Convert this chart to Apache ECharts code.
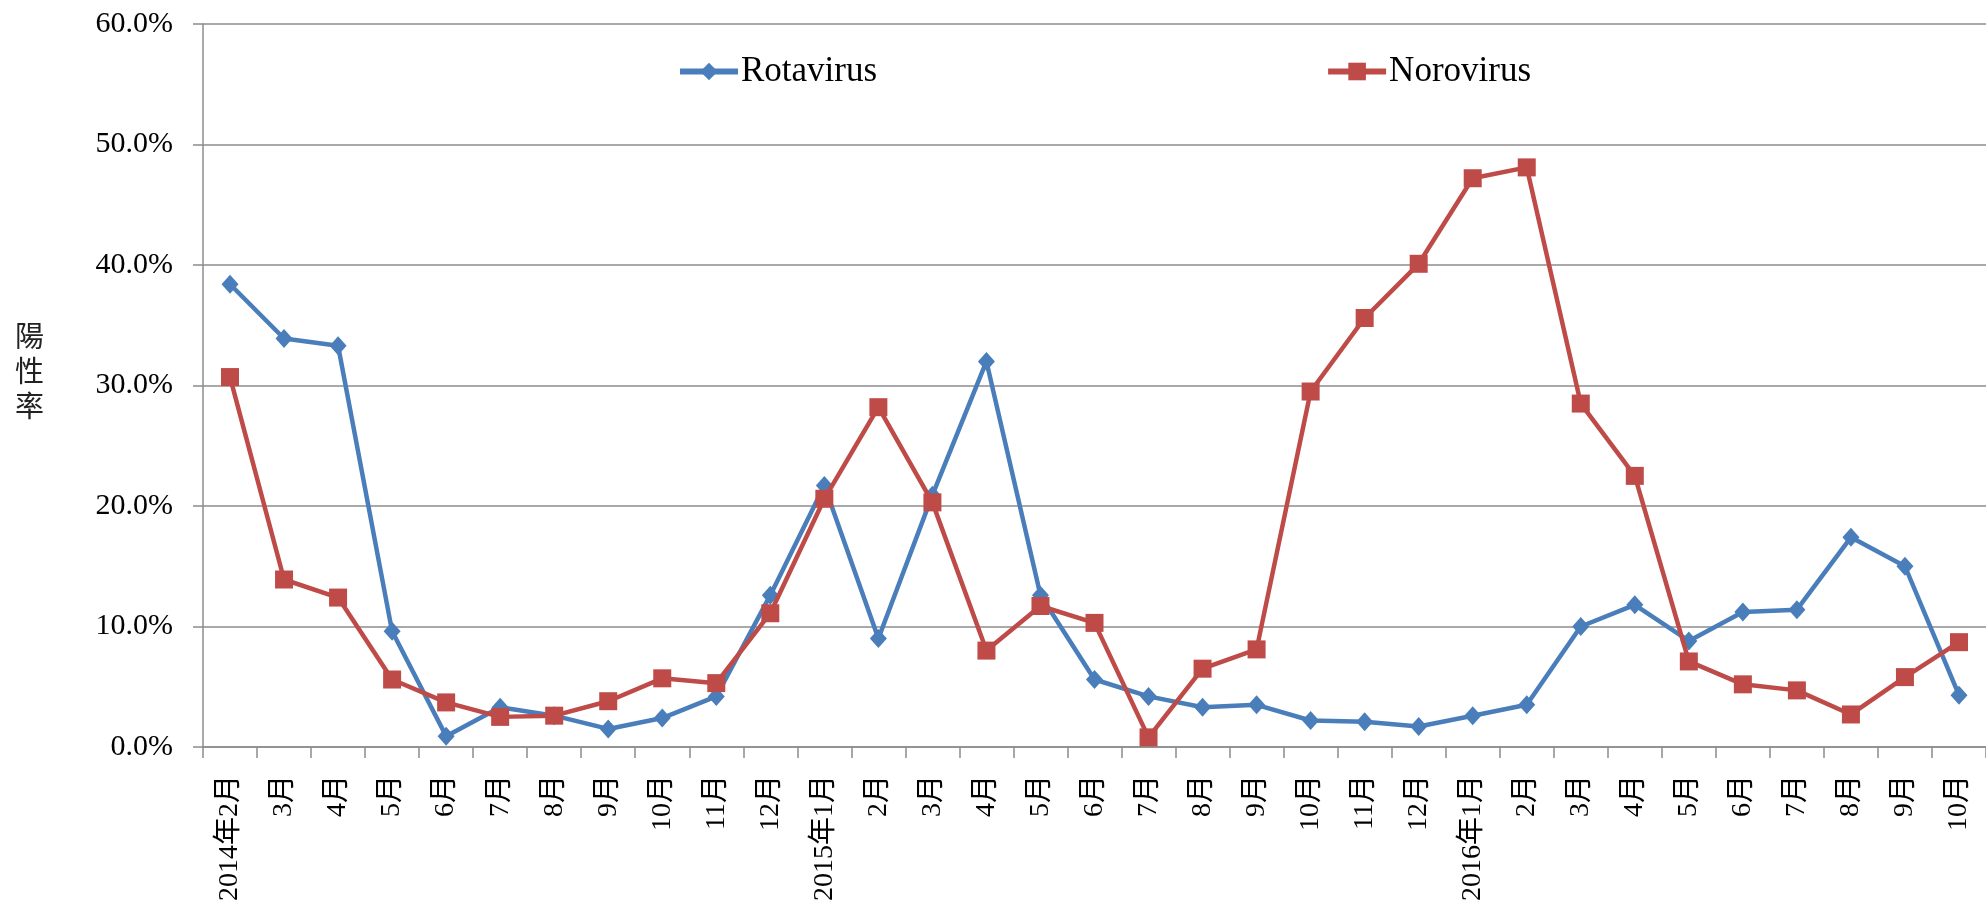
<!DOCTYPE html>
<html>
<head>
<meta charset="utf-8">
<script src="https://cdn.jsdelivr.net/npm/echarts@6/dist/echarts.min.js"></script>
<style>
  html, body { margin: 0; padding: 0; background: #ffffff; }
  #chart { width: 1986px; height: 911px; }
</style>
</head>
<body>
<div id="chart"></div>
<script>
// Monthly positivity rate (%), Feb 2014 – Oct 2016
const months = [
  '2014年2月', '3月', '4月', '5月', '6月', '7月', '8月', '9月', '10月', '11月', '12月',
  '2015年1月', '2月', '3月', '4月', '5月', '6月', '7月', '8月', '9月', '10月', '11月', '12月',
  '2016年1月', '2月', '3月', '4月', '5月', '6月', '7月', '8月', '9月', '10月'
];
const rotavirus = [
  38.4, 33.9, 33.3, 9.6, 0.9, 3.3, 2.6, 1.5, 2.4, 4.2, 12.6,
  21.7, 9.0, 20.9, 32.0, 12.6, 5.6, 4.2, 3.3, 3.5, 2.2, 2.1, 1.7,
  2.6, 3.5, 10.0, 11.8, 8.8, 11.2, 11.4, 17.4, 15.0, 4.3
];
const norovirus = [
  30.7, 13.9, 12.4, 5.6, 3.7, 2.5, 2.6, 3.8, 5.7, 5.3, 11.1,
  20.6, 28.2, 20.3, 8.0, 11.7, 10.3, 0.8, 6.5, 8.1, 29.5, 35.6, 40.1,
  47.2, 48.1, 28.5, 22.5, 7.1, 5.2, 4.7, 2.7, 5.8, 8.7
];
const yAxisTitle = '陽\n性\n率';
const seriesNames = ['Rotavirus', 'Norovirus'];

const FONT = "'Liberation Serif', 'Noto Sans CJK TC', serif";
const AXIS_GRAY = '#8c8c8c';
const BLUE = '#4a7ebb';
const RED = '#be4b48';

const chart = echarts.init(document.getElementById('chart'), null, { renderer: 'canvas' });

chart.setOption({
  backgroundColor: '#ffffff',
  animation: false,
  grid: { left: 203, right: 0, top: 24, bottom: 164, containLabel: false },
  legend: {
    data: seriesNames,
    left: 672,
    top: 49,
    itemWidth: 58,
    itemHeight: 22,
    itemGap: 448,
    lineStyle: { width: 6 },
    textStyle: { fontFamily: FONT, fontSize: 35, color: '#000', padding: [0, 0, 0, -2] }
  },
  graphic: [{
    type: 'text',
    left: 15,
    top: 318,
    style: {
      text: yAxisTitle,
      font: "29px 'Noto Sans CJK TC'",
      fill: '#222',
      lineHeight: 35
    }
  }],
  xAxis: {
    type: 'category',
    data: months,
    boundaryGap: true,
    axisLine: { lineStyle: { color: AXIS_GRAY, width: 1.5 } },
    axisTick: { show: true, alignWithLabel: false, length: 11, lineStyle: { color: AXIS_GRAY, width: 1.5 } },
    axisLabel: {
      interval: 0,
      rotate: 90,
      margin: 28,
      fontFamily: FONT,
      fontSize: 28,
      color: '#000'
    },
    splitLine: { show: false }
  },
  yAxis: {
    type: 'value',
    min: 0,
    max: 60,
    interval: 10,
    axisLine: { show: true, lineStyle: { color: AXIS_GRAY, width: 1.5 } },
    axisTick: { show: true, length: 10, lineStyle: { color: AXIS_GRAY, width: 1.5 } },
    axisLabel: {
      margin: 30,
      fontFamily: FONT,
      fontSize: 30,
      color: '#000',
      formatter: v => v.toFixed(1) + '%'
    },
    splitLine: { show: true, lineStyle: { color: AXIS_GRAY, width: 1.5 } }
  },
  series: [
    {
      name: seriesNames[0],
      type: 'line',
      data: rotavirus,
      symbol: 'diamond',
      symbolSize: [17, 19],
      color: BLUE,
      lineStyle: { width: 4.5, color: BLUE },
      itemStyle: { color: BLUE },
      z: 2
    },
    {
      name: seriesNames[1],
      type: 'line',
      data: norovirus,
      symbol: 'rect',
      symbolSize: 18,
      color: RED,
      lineStyle: { width: 4.5, color: RED },
      itemStyle: { color: RED },
      z: 3
    }
  ]
});
</script>
</body>
</html>
